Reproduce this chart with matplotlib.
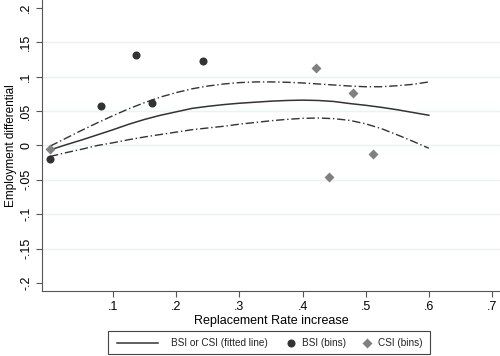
import matplotlib
matplotlib.use("Agg")
import matplotlib.pyplot as plt
from matplotlib.lines import Line2D
from matplotlib.patches import Rectangle

plt.rcParams['font.family'] = ['Liberation Sans', 'DejaVu Sans']

# Binned scatter points
bsi_x = [0.0, 0.081, 0.136, 0.162, 0.242]
bsi_y = [-0.019, 0.058, 0.131, 0.062, 0.123]
csi_x = [0.0, 0.422, 0.442, 0.480, 0.511]
csi_y = [-0.005, 0.113, -0.046, 0.076, -0.012]

# Fitted line with confidence band
fit_x = [0.0, 0.025, 0.05, 0.075, 0.1, 0.125, 0.15, 0.175, 0.2, 0.225, 0.25, 0.275,
         0.3, 0.325, 0.35, 0.375, 0.4, 0.425, 0.45, 0.475, 0.5, 0.525, 0.55, 0.575, 0.6]
fit_y = [-0.0065, 0.001, 0.008, 0.0155, 0.023, 0.031, 0.038, 0.044, 0.049, 0.054, 0.057, 0.0595,
         0.0615, 0.063, 0.0645, 0.0655, 0.066, 0.0655, 0.064, 0.061, 0.0585, 0.0555, 0.052, 0.048, 0.044]
ci_hi = [-0.001, 0.0105, 0.022, 0.033, 0.0435, 0.0535, 0.0625, 0.0705, 0.077, 0.0825, 0.0865, 0.0895,
         0.0915, 0.0925, 0.0925, 0.092, 0.091, 0.0895, 0.088, 0.0865, 0.0855, 0.0855, 0.087, 0.089, 0.0925]
ci_lo = [-0.016, -0.0105, -0.0055, 0.0, 0.004, 0.0085, 0.0125, 0.016, 0.0195, 0.023, 0.0255, 0.028,
         0.031, 0.0335, 0.036, 0.038, 0.0395, 0.040, 0.039, 0.0365, 0.0315, 0.0245, 0.0155, 0.006, -0.004]

x_ticks = [0.1, 0.2, 0.3, 0.4, 0.5, 0.6, 0.7]
x_labels = ['.1', '.2', '.3', '.4', '.5', '.6', '.7']
y_ticks = [-0.2, -0.15, -0.1, -0.05, 0.0, 0.05, 0.1, 0.15, 0.2]
y_labels = ['-.2', '-.15', '-.1', '-.05', '0', '.05', '.1', '.15', '.2']
grid_y = [-0.15, -0.1, -0.05, 0.0, 0.05, 0.1, 0.15]
legend_labels = ['BSI or CSI (fitted line)', 'BSI (bins)', 'CSI (bins)']

dark = '#333333'
grey = '#808080'
W, H = 500.0, 356.0

fig = plt.figure(figsize=(5.0, 3.56), dpi=100)
ax = fig.add_axes([0.084, 0.1826, 0.916, 0.8174])

for g in grid_y:
    ax.axhline(g, color='#EAF2F3', lw=1.0, zorder=0)

ax.plot(fit_x, ci_hi, color=dark, lw=1.0, dashes=(6, 2, 1, 2), zorder=2)
ax.plot(fit_x, ci_lo, color=dark, lw=1.0, dashes=(6, 2, 1, 2), zorder=2)
ax.plot(fit_x, fit_y, color=dark, lw=1.1, zorder=3)
ax.plot(bsi_x, bsi_y, 'o', color=dark, ms=5.8, mec='none', zorder=4)
ax.plot(csi_x, csi_y, 'D', color=grey, ms=5.3, mec='none', zorder=4)

ax.set_xlim(-0.0127, 0.7127)
ax.set_ylim(-0.2117, 0.2117)
ax.set_xticks(x_ticks)
ax.set_xticklabels(x_labels)
ax.set_yticks(y_ticks)
ax.set_yticklabels(y_labels, rotation=90, va='center')
ax.tick_params(axis='both', labelsize=9, length=4, width=0.8, color='#555555', pad=3)
for s in ['top', 'right']:
    ax.spines[s].set_visible(False)
for s in ['left', 'bottom']:
    ax.spines[s].set_color('#555555')
    ax.spines[s].set_linewidth(0.8)

ax.set_xlabel('Replacement Rate increase', fontsize=9, labelpad=2)
ax.set_ylabel('Employment differential', fontsize=8.5, labelpad=2)

# Legend drawn in figure pixel space (Stata-style layout)
def fx(px):
    return px / W

def fy(py):
    return (H - py) / H

ly = 342.5
fig.add_artist(Rectangle((fx(108), fy(354)), fx(430) - fx(108), fy(331) - fy(354),
                         transform=fig.transFigure, fill=False, edgecolor='#444444', lw=0.8))
fig.add_artist(Line2D([fx(117), fx(158)], [fy(ly), fy(ly)], transform=fig.transFigure,
                      color=dark, lw=1.1))
fig.add_artist(Line2D([fx(291)], [fy(ly)], transform=fig.transFigure, marker='o',
                      color=dark, ms=5.8, mec='none', ls='none'))
fig.add_artist(Line2D([fx(367)], [fy(ly)], transform=fig.transFigure, marker='D',
                      color=grey, ms=5.3, mec='none', ls='none'))
for tx, lab in zip([171, 302, 378], legend_labels):
    fig.text(fx(tx), fy(ly), lab, fontsize=7.2, ha='left', va='center', color='#222222')

fig.savefig('out.png', dpi=100)
